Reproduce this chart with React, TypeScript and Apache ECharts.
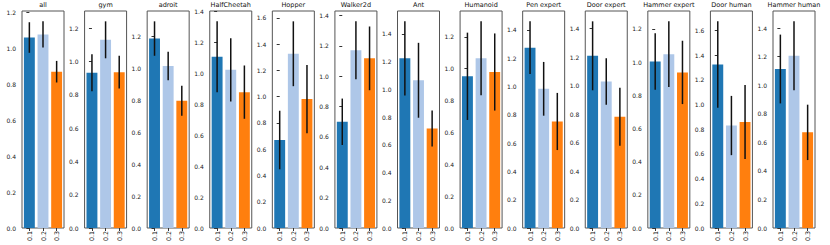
import React, { useEffect, useRef } from "react";
import * as echarts from "echarts";

const categories = ["0.1", "0.2", "0.3"];
const envs = [
  "all", "gym", "adroit", "HalfCheetah", "Hopper", "Walker2d", "Ant",
  "Humanoid", "Pen expert", "Door expert", "Hammer expert", "Door human", "Hammer human",
];
const means01 = [1.059, 0.932, 1.188, 1.105, 0.670, 0.700, 1.223, 0.952, 1.275, 1.209, 1.004, 1.324, 1.114];
const means02 = [1.076, 1.130, 1.016, 1.021, 1.327, 1.171, 1.065, 1.065, 0.984, 1.029, 1.048, 0.830, 1.207];
const means03 = [0.869, 0.936, 0.798, 0.877, 0.982, 1.118, 0.717, 0.979, 0.753, 0.781, 0.938, 0.859, 0.670];
const errs01 = [0.085, 0.111, 0.108, 0.229, 0.223, 0.153, 0.267, 0.274, 0.186, 0.242, 0.170, 0.350, 0.241];
const errs02 = [0.073, 0.111, 0.090, 0.204, 0.247, 0.191, 0.270, 0.232, 0.190, 0.163, 0.198, 0.240, 0.241];
const errs03 = [0.060, 0.099, 0.094, 0.172, 0.260, 0.210, 0.130, 0.242, 0.202, 0.203, 0.191, 0.300, 0.194];
const colors = ["#1f77b4", "#aec7e8", "#ff7f0e"];

const FONT = "DejaVu Sans";

export default function App() {
  const ref = useRef<HTMLDivElement>(null);
  useEffect(() => {
    if (!ref.current) return;
    const chart = echarts.init(ref.current, null, { renderer: "svg" });
    const grids: any[] = [];
    const xAxes: any[] = [];
    const yAxes: any[] = [];
    const series: any[] = [];
    const graphics: any[] = [];
    const pitch = (773 - 22) / 12;
    const gw = 42;
    const catIdx = categories.map((_, k) => k);
    envs.forEach((name, i) => {
      const left = 22 + i * pitch;
      const means = [means01[i], means02[i], means03[i]];
      const errs = [errs01[i], errs02[i], errs03[i]];
      const topVal = Math.max(...means.map((m, k) => m + errs[k]));
      const ymax = topVal * 1.05;
      const ticks: number[] = [];
      for (let t = 0; t <= ymax + 1e-9; t = Math.round((t + 0.2) * 10) / 10) ticks.push(t);
      grids.push({
        left, top: 11, width: gw, height: 217, show: true,
        borderColor: "#555", borderWidth: 1, backgroundColor: "transparent",
        containLabel: false, outerBoundsMode: "none",
      });
      xAxes.push({
        type: "value", gridIndex: i, min: -0.54, max: 2.54,
        splitLine: { show: false },
        axisLine: { show: false },
        axisTick: { show: true, length: 3, customValues: catIdx, lineStyle: { color: "#333" } },
        axisLabel: {
          rotate: 90, fontSize: 6.3, color: "#111", fontFamily: FONT, margin: 3,
          customValues: catIdx,
          formatter: (v: number) => categories[Math.round(v)] ?? "",
        },
      });
      yAxes.push({
        type: "value", gridIndex: i, min: 0, max: ymax,
        splitLine: { show: false },
        axisLine: { show: false },
        axisTick: { show: true, length: 3, customValues: ticks, lineStyle: { color: "#333" } },
        axisLabel: {
          fontSize: 6, color: "#222", fontFamily: FONT, margin: 6,
          customValues: ticks, formatter: (v: number) => v.toFixed(1),
        },
      });
      series.push({
        type: "bar", xAxisIndex: i, yAxisIndex: i, barWidth: "80%",
        data: means.map((m, k) => ({ value: [k, m], itemStyle: { color: colors[k] } })),
        z: 2,
      });
      series.push({
        type: "custom", xAxisIndex: i, yAxisIndex: i, z: 5,
        data: means.map((m, k) => [k, m - errs[k], m + errs[k]]),
        renderItem: (params: any, api: any) => {
          const x = api.value(0);
          const lo = api.coord([x, api.value(1)]);
          const hi = api.coord([x, api.value(2)]);
          return {
            type: "line",
            shape: { x1: lo[0], y1: lo[1], x2: hi[0], y2: hi[1] },
            style: { stroke: "#111", lineWidth: 1.5 },
          };
        },
      });
      graphics.push({
        type: "text", x: left + gw / 2, y: 1,
        style: {
          text: name, fontSize: 6.5, fill: "#111", fontFamily: FONT,
          textAlign: "center", textVerticalAlign: "top",
        },
      });
    });
    chart.setOption({
      animation: false,
      backgroundColor: "#fff",
      grid: grids,
      xAxis: xAxes,
      yAxis: yAxes,
      series,
      graphic: graphics,
    });
    return () => chart.dispose();
  }, []);
  return (
    <div
      ref={ref}
      style={{ position: "absolute", left: 0, top: 0, width: 830, height: 245 }}
    />
  );
}
